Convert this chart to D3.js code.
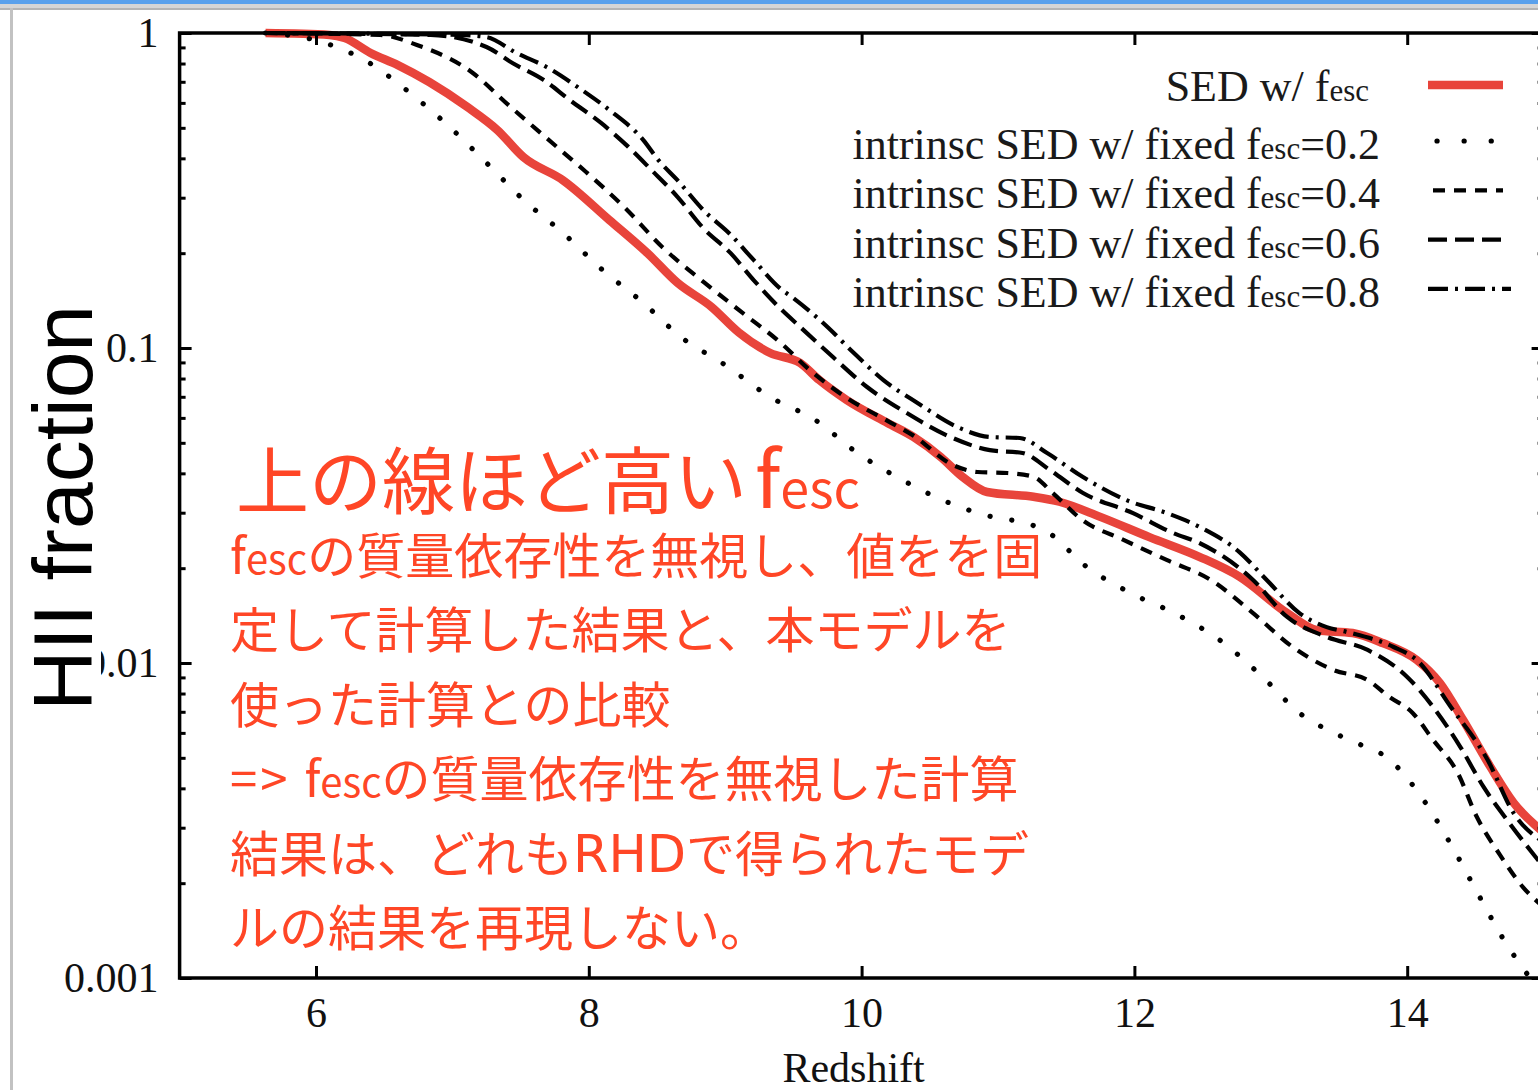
<!DOCTYPE html>
<html><head><meta charset="utf-8">
<script src="https://cdn.jsdelivr.net/npm/d3@7"></script>
<style>body{margin:0;background:#fff;overflow:hidden} svg{display:block}</style>
</head><body>
<svg id="c" width="1538" height="1090"></svg>
<script>
// ---------- data ----------
const redshiftTicks = [6, 8, 10, 12, 14];
const fractionTicks = [1, 0.1, 0.01, 0.001];
const fractionTickLabels = ["1", "0.1", "0.01", "0.001"];
const xTitle = "Redshift";
const yTitle = "HII fraction";

const seriesNames = ["SED w/ fesc", "intrinsc SED w/ fixed fesc=0.2", "intrinsc SED w/ fixed fesc=0.4",
                     "intrinsc SED w/ fixed fesc=0.6", "intrinsc SED w/ fixed fesc=0.8"];

const sedZ = [5.63, 6.10, 6.21, 6.40, 6.60, 6.83, 7.11, 7.33, 7.52, 7.81, 8.15, 8.43, 8.65, 8.90, 9.10, 9.33, 9.55, 9.69, 9.89, 10.19, 10.38, 10.58, 10.74, 10.92, 11.26, 11.45, 11.75, 12.11, 12.48, 12.77, 13.12, 13.34, 13.60, 13.82, 14.07, 14.24, 14.41, 14.61, 14.78, 15.0];
const sedF = [1.0, 0.986, 0.964, 0.864, 0.791, 0.699, 0.582, 0.492, 0.404, 0.341, 0.255, 0.200, 0.161, 0.135, 0.112, 0.0964, 0.0896, 0.0791, 0.0684, 0.0578, 0.0522, 0.0451, 0.0390, 0.0349, 0.0337, 0.0325, 0.0291, 0.0251, 0.0217, 0.0188, 0.0144, 0.0127, 0.01245, 0.01157, 0.01022, 0.00864, 0.00659, 0.00468, 0.00360, 0.00290];

const f02Z = [5.63, 5.99, 6.38, 6.69, 6.98, 7.25, 7.53, 7.81, 8.10, 8.40, 8.68, 9.00, 9.33, 9.66, 9.97, 10.30, 10.63, 10.99, 11.18, 11.36, 11.65, 11.97, 12.32, 12.64, 12.94, 13.21, 13.54, 13.89, 14.13, 14.33, 14.51, 14.70, 15.0];
const f02F = [1.0, 0.950, 0.809, 0.645, 0.503, 0.387, 0.293, 0.232, 0.177, 0.139, 0.108, 0.0883, 0.0699, 0.0591, 0.0464, 0.0381, 0.0324, 0.0289, 0.0280, 0.0261, 0.0202, 0.0167, 0.0142, 0.0117, 0.00903, 0.00694, 0.00578, 0.00485, 0.00362, 0.00261, 0.00188, 0.00134, 0.00088];

const f04Z = [5.63, 6.47, 6.74, 7.14, 7.41, 7.69, 7.98, 8.26, 8.54, 8.85, 9.13, 9.40, 9.62, 9.89, 10.19, 10.38, 10.67, 10.85, 11.07, 11.26, 11.40, 11.62, 11.92, 12.24, 12.56, 12.87, 13.16, 13.46, 13.71, 13.87, 14.04, 14.19, 14.37, 14.51, 14.68, 14.85, 15.0];
const f04F = [1.0, 0.986, 0.916, 0.752, 0.591, 0.464, 0.362, 0.280, 0.209, 0.161, 0.129, 0.1045, 0.0851, 0.0695, 0.0587, 0.0527, 0.0425, 0.0404, 0.0401, 0.0390, 0.0347, 0.0284, 0.0246, 0.0212, 0.01835, 0.0144, 0.01124, 0.0095, 0.00883, 0.0078, 0.00694, 0.0057, 0.00448, 0.00325, 0.00246, 0.00194, 0.00168];

const f06Z = [5.63, 6.84, 7.25, 7.44, 7.67, 7.86, 8.09, 8.29, 8.46, 8.65, 8.84, 9.04, 9.21, 9.40, 9.55, 9.79, 10.04, 10.33, 10.65, 10.94, 11.18, 11.38, 11.62, 11.99, 12.28, 12.48, 12.87, 13.12, 13.41, 13.71, 14.00, 14.19, 14.39, 14.56, 14.75, 15.0];
const f06F = [1.0, 0.986, 0.903, 0.803, 0.709, 0.613, 0.518, 0.435, 0.367, 0.302, 0.240, 0.200, 0.164, 0.134, 0.1166, 0.0936, 0.0752, 0.0622, 0.0522, 0.0474, 0.0464, 0.0410, 0.0347, 0.0299, 0.0259, 0.0240, 0.01835, 0.0140, 0.0121, 0.0110, 0.00903, 0.00725, 0.00541, 0.00404, 0.0031, 0.00225];

const f08Z = [5.63, 7.06, 7.25, 7.47, 7.69, 7.95, 8.15, 8.40, 8.51, 8.65, 8.84, 9.04, 9.21, 9.40, 9.50, 9.75, 9.92, 10.16, 10.41, 10.72, 10.94, 11.16, 11.36, 11.62, 11.94, 12.24, 12.48, 12.77, 12.97, 13.21, 13.41, 13.56, 13.90, 14.07, 14.32, 14.59, 14.78, 15.0];
const f08F = [1.0, 0.986, 0.971, 0.864, 0.780, 0.659, 0.570, 0.457, 0.395, 0.341, 0.274, 0.229, 0.190, 0.155, 0.144, 0.1166, 0.0986, 0.0791, 0.0669, 0.0557, 0.0522, 0.0518, 0.0464, 0.0390, 0.0329, 0.0299, 0.0270, 0.0225, 0.01835, 0.0144, 0.0130, 0.01254, 0.01124, 0.01022, 0.00725, 0.00492, 0.00334, 0.00270];

const noteTitle = "上の線ほど高いfesc";
const noteLines = [
  "fescの質量依存性を無視し、値をを固",
  "定して計算した結果と、本モデルを",
  "使った計算との比較",
  "=> fescの質量依存性を無視した計算",
  "結果は、どれもRHDで得られたモデ",
  "ルの結果を再現しない。"
];

// ---------- styles ----------
const styles = [
  {color: "#e8443b", width: 8.5, dash: null, cap: "butt"},
  {color: "#000", width: 5.2, dash: "0.1,22", cap: "round"},
  {color: "#000", width: 4.2, dash: "12,9", cap: "butt"},
  {color: "#000", width: 4.2, dash: "19,8", cap: "butt"},
  {color: "#000", width: 4.2, dash: "20,7,3,7", cap: "butt"}
];
const seriesZ = [sedZ, f02Z, f04Z, f06Z, f08Z];
const seriesF = [sedF, f02F, f04F, f06F, f08F];

// ---------- chart ----------
const svg = d3.select("#c");
const W = 1538, H = 1090;
const m = {l: 179.6, t: 33, b: 978, r: 1543.6};
const x = d3.scaleLinear().domain([5, 15]).range([m.l, m.r]);
const y = d3.scaleLog().domain([0.001, 1]).range([m.b, m.t]);

svg.append("rect").attr("width", W).attr("height", H).attr("fill", "#fff");

// window chrome
svg.append("rect").attr("x", 0).attr("y", 0).attr("width", W).attr("height", 4).attr("fill", "#5aa1ec");
svg.append("rect").attr("x", 0).attr("y", 4).attr("width", W).attr("height", 5).attr("fill", "#d6d6d6");
svg.append("rect").attr("x", 0).attr("y", 8).attr("width", W).attr("height", 2).attr("fill", "#b5b5b5");
svg.append("rect").attr("x", 10).attr("y", 8).attr("width", 3).attr("height", H).attr("fill", "#c2c2c2");

const serif = "'Liberation Serif','Times New Roman',serif";

// clip
svg.append("defs").append("clipPath").attr("id", "clip")
  .append("rect").attr("x", m.l).attr("y", m.t - 12).attr("width", m.r - m.l).attr("height", m.b - m.t + 12);

// lines
const line = d3.line().x(d => x(d[0])).y(d => y(d[1])).curve(d3.curveMonotoneX);
const gL = svg.append("g").attr("clip-path", "url(#clip)");
seriesZ.forEach((zs, i) => {
  const pts = zs.map((z, k) => [z, seriesF[i][k]]);
  const s = styles[i];
  gL.append("path").attr("d", line(pts)).attr("fill", "none")
    .attr("stroke", s.color).attr("stroke-width", s.width)
    .attr("stroke-dasharray", s.dash).attr("stroke-linecap", s.cap)
    .attr("stroke-linejoin", "round");
});

// axes
function styleAxis(g) {
  g.select(".domain").remove();
  g.selectAll(".tick line").attr("stroke", "#000").attr("stroke-width", 3);
  g.selectAll(".tick text").attr("font-family", serif).attr("font-size", 42).attr("fill", "#111");
}
const minorY = y.ticks().filter(v => !fractionTicks.some(t => Math.abs(t - v) / t < 1e-6));

svg.append("g").attr("transform", `translate(0,${m.b})`)
  .call(d3.axisBottom(x).tickValues(redshiftTicks).tickSize(-12).tickPadding(19).tickFormat(d3.format("d")))
  .call(styleAxis);
svg.append("g").attr("transform", `translate(0,${m.t})`)
  .call(d3.axisTop(x).tickValues(redshiftTicks).tickSize(-12).tickFormat(""))
  .call(styleAxis);
svg.append("g").attr("transform", `translate(${m.l},0)`)
  .call(d3.axisLeft(y).tickValues(fractionTicks).tickSize(-12).tickPadding(21).tickFormat((d, i) => fractionTickLabels[i]))
  .call(styleAxis);
svg.append("g").attr("transform", `translate(${m.l},0)`)
  .call(d3.axisLeft(y).tickValues(minorY).tickSize(-6).tickFormat(""))
  .call(styleAxis);
svg.append("g").attr("transform", `translate(${m.r},0)`)
  .call(d3.axisRight(y).tickValues(fractionTicks).tickSize(-12).tickFormat(""))
  .call(styleAxis);
svg.append("g").attr("transform", `translate(${m.r},0)`)
  .call(d3.axisRight(y).tickValues(minorY).tickSize(-6).tickFormat(""))
  .call(styleAxis);

// frame
svg.append("rect").attr("x", m.l).attr("y", m.t).attr("width", m.r - m.l).attr("height", m.b - m.t)
  .attr("fill", "none").attr("stroke", "#000").attr("stroke-width", 3.5);

// x title
svg.append("text").attr("x", x(10) - 8).attr("y", 1082).attr("text-anchor", "middle")
  .attr("font-family", serif).attr("font-size", 42).attr("fill", "#111").text(xTitle);

// y title with white box
svg.append("rect").attr("x", 14).attr("y", 290).attr("width", 87).attr("height", 430).attr("fill", "#fff");
svg.append("text").attr("transform", "translate(92,508) rotate(-90)").attr("text-anchor", "middle")
  .attr("font-family", "'Liberation Sans',Arial,sans-serif").attr("font-size", 84).attr("fill", "#000").text(yTitle);

// text helper: "fesc" drawn as f + small "esc", "RHD"-like latin runs optionally wider
function addRich(sel, str, opt) {
  const parts = str.split("fesc");
  parts.forEach((p, i) => {
    if (p) {
      // split out latin capital runs and "=>" for width tuning
      const toks = p.split(/([A-Z]+|=> )/);
      toks.forEach(tk => {
        if (!tk) return;
        const ts = sel.append("tspan").text(tk);
        if (opt.latinFamily && /^[A-Z]+$/.test(tk)) ts.attr("font-family", opt.latinFamily).attr("font-size", opt.latinSize);
        if (tk === "=> " && opt.arrowSpacing) ts.attr("letter-spacing", opt.arrowSpacing);
      });
    }
    if (i < parts.length - 1) {
      const f = sel.append("tspan").text("f");
      if (opt.fSize) f.attr("font-size", opt.fSize);
      if (opt.fDx && i === 0 && parts[0]) f.attr("dx", opt.fDx);
      sel.append("tspan").attr("font-size", opt.small).text("esc");
    }
  });
}

// legend
const legX2 = 1380, sx1 = 1428, sx2 = 1503;
seriesNames.forEach((name, i) => {
  const ty = i === 0 ? 101 : 159 + (i - 1) * 49.3;
  const t = svg.append("text").attr("x", i === 0 ? 1369 : legX2).attr("y", ty).attr("text-anchor", "end")
    .attr("font-family", serif).attr("font-size", 44).attr("fill", "#1a1a1a");
  addRich(t, name, {small: 31});
  const s = styles[i];
  const ly = i === 0 ? 85 : ty - 18;
  svg.append("line").attr("x1", sx1).attr("x2", i === 4 ? sx2 + 8 : sx2).attr("y1", ly).attr("y2", ly)
    .attr("stroke", s.color).attr("stroke-width", s.width)
    .attr("stroke-dasharray", i === 1 ? "0.1,27" : s.dash)
    .attr("stroke-dashoffset", i === 1 ? -9 : (i === 2 ? -5 : 0))
    .attr("stroke-linecap", s.cap);
});

// annotation (red Japanese text)
const jp = "'Noto Sans CJK JP','Noto Sans CJK SC',sans-serif";
const red = "#ff4626";
const title = svg.append("text").attr("x", 236).attr("y", 508).attr("font-family", jp)
  .attr("font-weight", 400).attr("font-size", 73).attr("fill", red);
addRich(title, noteTitle, {small: 52, fSize: 78, fDx: 8});
noteLines.forEach((ln, i) => {
  const t = svg.append("text").attr("x", 230).attr("y", 574 + i * 74.4).attr("font-family", jp)
    .attr("font-weight", 400).attr("font-size", 49).attr("fill", red);
  addRich(t, ln, {small: 40, latinFamily: "'DejaVu Sans',sans-serif", latinSize: 51, arrowSpacing: 3});
});
</script>
</body></html>
